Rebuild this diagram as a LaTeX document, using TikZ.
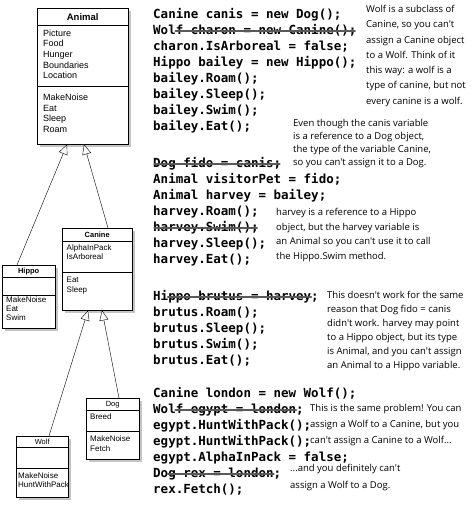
\documentclass[tikz,border=0pt]{standalone}
\usepackage{fontspec}
\setmainfont{Liberation Sans}
\newfontfamily\codefont{DejaVu Sans Mono}
\newfontfamily\handfont{Open Sans}
\usetikzlibrary{arrows.meta, shadows, positioning, calc}

\newcommand{\charw}{7.53}

\tikzset{
  classbox/.style={draw, thin, fill=white, anchor=north west, inner sep=0pt,
    drop shadow={shadow xshift=3pt, shadow yshift=-3pt, fill=black!45}},
  classname/.style={font=\fontsize{7.5}{9}\selectfont\bfseries, inner sep=0pt},
  members/.style={font=\fontsize{8}{8.7}\selectfont, align=left, anchor=north west, inner sep=0pt},
  inherit/.style={thin, -{Triangle[open, fill=white, length=10pt, width=9pt]}},
  code/.style={font=\codefont\bfseries\fontsize{12.5}{15}\selectfont, anchor=west,
    inner sep=0pt, text height=9pt, text depth=2.5pt},
  strike/.style={line width=2.6pt, black!65, line cap=round},
  note/.style={font=\handfont\fontsize{9.5}{13}\selectfont, align=left, anchor=north west, inner sep=0pt}
}

\begin{document}
\begin{tikzpicture}[x=1pt, y=-1pt]
  \useasboundingbox (0,0) rectangle (471,510);

  % class boxes
  \node[classbox, minimum width=91pt, minimum height=136pt] (animal) at (37,8) {};
  \node[classbox, minimum width=53pt, minimum height=63pt] (hippo) at (2,265) {};
  \node[classbox, minimum width=70pt, minimum height=82pt] (canine) at (62,228) {};
  \node[classbox, minimum width=53pt, minimum height=61pt] (dog) at (86,398) {};
  \node[classbox, minimum width=52pt, minimum height=61pt] (wolf) at (16,436) {};

  % dividers
  \draw ([yshift=-17pt]animal.north west) -- ([yshift=-17pt]animal.north east);
  \draw ([yshift=-78pt]animal.north west) -- ([yshift=-78pt]animal.north east);
  \draw ([yshift=-12pt]hippo.north west) -- ([yshift=-12pt]hippo.north east);
  \draw ([yshift=-30pt]hippo.north west) -- ([yshift=-30pt]hippo.north east);
  \draw ([yshift=-13pt]canine.north west) -- ([yshift=-13pt]canine.north east);
  \draw ([yshift=-44pt]canine.north west) -- ([yshift=-44pt]canine.north east);
  \draw ([yshift=-12pt]dog.north west) -- ([yshift=-12pt]dog.north east);
  \draw ([yshift=-33pt]dog.north west) -- ([yshift=-33pt]dog.north east);
  \draw ([yshift=-11pt]wolf.north west) -- ([yshift=-11pt]wolf.north east);
  \draw ([yshift=-32pt]wolf.north west) -- ([yshift=-32pt]wolf.north east);

  % class names and members
  \node[classname, font=\fontsize{9.5}{11}\selectfont\bfseries] (animal-name) [below=5pt of animal.north] {Animal};
  \node[members, font=\fontsize{9}{10.6}\selectfont] (animal-attr) at (43,29.5) {Picture\\Food\\Hunger\\Boundaries\\Location};
  \node[members, font=\fontsize{9}{10.6}\selectfont] (animal-ops) at (43,94) {MakeNoise\\Eat\\Sleep\\Roam};

  \node[classname] (hippo-name) [below=3pt of hippo.north] {Hippo};
  \node[members] (hippo-ops) at (6,297) {MakeNoise\\Eat\\Swim};

  \node[classname] (canine-name) [below=3.5pt of canine.north] {Canine};
  \node[members, font=\fontsize{8}{9}\selectfont] (canine-attr) at (66.5,245) {AlphaInPack\\IsArboreal};
  \node[members, font=\fontsize{8}{9.5}\selectfont] (canine-ops) at (66.5,277) {Eat\\Sleep};

  \node[classname, font=\fontsize{7.5}{9}\selectfont] (dog-name) [below=3pt of dog.north] {Dog};
  \node[members] (dog-attr) at (90,413) {Breed};
  \node[members, font=\fontsize{8}{10}\selectfont] (dog-ops) at (90,435) {MakeNoise\\Fetch};

  \node[classname, font=\fontsize{7.5}{9}\selectfont] (wolf-name) [below=2.5pt of wolf.north] {Wolf};
  \node[members, font=\fontsize{8}{9.5}\selectfont] (wolf-ops) at (18,472) {MakeNoise\\HuntWithPack};

  % inheritance
  \draw[inherit] ([xshift=15pt]hippo.north west) -- ([xshift=30pt]animal.south west);
  \draw[inherit] ([xshift=46pt]canine.north west) -- ([xshift=47pt]animal.south west);
  \draw[inherit] ([xshift=33pt]wolf.north west) -- ([xshift=26pt]canine.south west);
  \draw[inherit] ([xshift=33pt]dog.north west) -- ([xshift=40pt]canine.south west);

  % code
  \node[code] (canis) at (153,15) {Canine canis = new Dog();};
  \node[code] (charon) at (153,31) {Wolf charon = new Canine();};
  \node[code] (arboreal) at (153,47) {charon.IsArboreal = false;};
  \node[code] (bailey) at (153,63) {Hippo bailey = new Hippo();};
  \node[code] (b-roam) at (153,79) {bailey.Roam();};
  \node[code] (b-sleep) at (153,95) {bailey.Sleep();};
  \node[code] (b-swim) at (153,111) {bailey.Swim();};
  \node[code] (b-eat) at (153,127) {bailey.Eat();};

  \node[code] (fido) at (153,164) {Dog fido = canis;};
  \node[code] (visitor) at (153,180) {Animal visitorPet = fido;};
  \node[code] (harvey) at (153,196) {Animal harvey = bailey;};
  \node[code] (h-roam) at (153,212) {harvey.Roam();};
  \node[code] (h-swim) at (153,228) {harvey.Swim();};
  \node[code] (h-sleep) at (153,244) {harvey.Sleep();};
  \node[code] (h-eat) at (153,260) {harvey.Eat();};

  \node[code] (brutus) at (153,297) {Hippo brutus = harvey;};
  \node[code] (r-roam) at (153,313) {brutus.Roam();};
  \node[code] (r-sleep) at (153,329) {brutus.Sleep();};
  \node[code] (r-swim) at (153,345) {brutus.Swim();};
  \node[code] (r-eat) at (153,361) {brutus.Eat();};

  \node[code] (london) at (153,394) {Canine london = new Wolf();};
  \node[code] (egypt) at (153,410) {Wolf egypt = london;};
  \node[code] (hunt1) at (153,426) {egypt.HuntWithPack();};
  \node[code] (hunt2) at (153,442) {egypt.HuntWithPack();};
  \node[code] (alpha) at (153,458) {egypt.AlphaInPack = false;};
  \node[code] (rex) at (153,474) {Dog rex = london;};
  \node[code] (fetch) at (153,490) {rex.Fetch();};

  % crossed out lines
  \draw[strike] ([xshift={3*\charw}]charon.west) -- ([xshift={26.8*\charw}]charon.west);
  \draw[strike] ([xshift={0.2*\charw}]fido.west) -- ([xshift={16.8*\charw}]fido.west);
  \draw[strike] ([xshift={0.2*\charw}]h-swim.west) -- ([xshift={13.8*\charw}]h-swim.west);
  \draw[strike] ([xshift={2*\charw}]brutus.west) -- ([xshift={21*\charw}]brutus.west);
  \draw[strike] ([xshift={3*\charw}]egypt.west) -- ([xshift={19*\charw}]egypt.west);
  \draw[strike] ([xshift={2*\charw}]rex.west) -- ([xshift={16*\charw}]rex.west);

  % notes
  \node[note, font=\handfont\fontsize{9.5}{15.3}\selectfont] (note-charon) at (366,5) {Wolf is a subclass of\\Canine, so you can't\\assign a Canine object\\to a Wolf. Think of it\\this way: a wolf is a\\type of canine, but not\\every canine is a wolf.};
  \node[note] (note-fido) at (293,119) {Even though the canis variable\\is a reference to a Dog object,\\the type of the variable Canine,\\so you can't assign it to a Dog.};
  \node[note, font=\handfont\fontsize{9.5}{14.7}\selectfont] (note-swim) at (276,208) {harvey is a reference to a Hippo\\object, but the harvey variable is\\an Animal so you can't use it to call\\the Hippo.Swim method.};
  \node[note, font=\handfont\fontsize{9.5}{14}\selectfont] (note-brutus) at (327,291) {This doesn't work for the same\\reason that Dog fido = canis\\didn't work. harvey may point\\to a Hippo object, but its type\\is Animal, and you can't assign\\an Animal to a Hippo variable.};
  \node[note, font=\handfont\fontsize{9.5}{16}\selectfont] (note-egypt) at (310,404) {This is the same problem! You can\\assign a Wolf to a Canine, but you\\can't assign a Canine to a Wolf...};
  \node[note, font=\handfont\fontsize{9.5}{17}\selectfont] (note-rex) at (290,464) {...and you definitely can't\\assign a Wolf to a Dog.};
\end{tikzpicture}
\end{document}
